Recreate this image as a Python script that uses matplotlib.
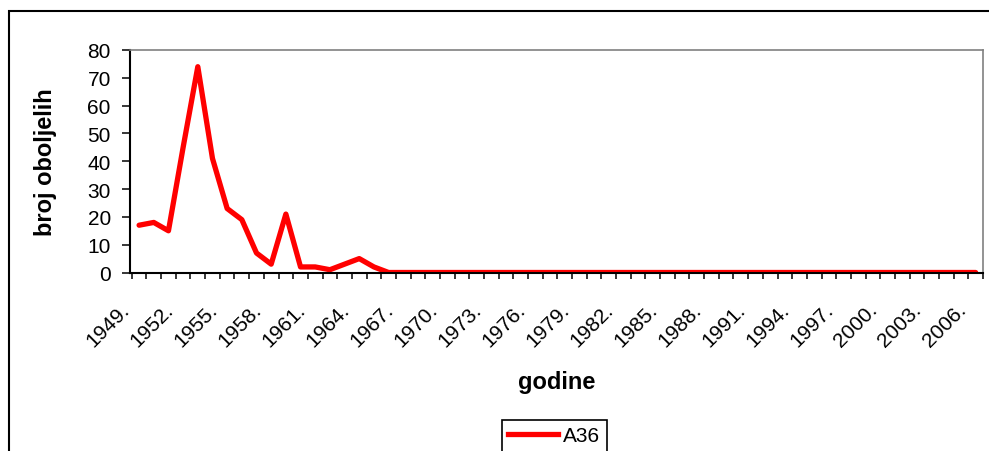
import matplotlib
matplotlib.use("Agg")
import matplotlib.pyplot as plt
from matplotlib.patches import Rectangle
from matplotlib.lines import Line2D

plt.rcParams['font.family'] = ['Liberation Sans', 'DejaVu Sans']

# Yearly case counts
years = list(range(1949, 2007))
cases = [17, 18, 15, 45, 74, 41, 23, 19, 7, 3,
         21, 2, 2, 1, 3, 5, 2, 0] + [0] * 40
series_name = "A36"
x_title = "godine"
y_title = "broj oboljelih"
y_ticks = [0, 10, 20, 30, 40, 50, 60, 70, 80]
label_years = years[::3]

W, H = 989, 452
fig = plt.figure(figsize=(W / 100, H / 100), dpi=100)

# outer chart frame
fig.patches.append(Rectangle((9 / W, -0.2), 1.2, 1.2 - 12 / H,
                             transform=fig.transFigure, fill=False,
                             edgecolor='black', linewidth=1.5, clip_on=False))

ax = fig.add_axes([130 / W, 1 - 273.5 / H, 853 / W, 222.5 / H])

xpos = [i + 0.5 for i in range(len(years))]
line, = ax.plot(xpos, cases, color='#FF0000', linewidth=3.8,
                solid_joinstyle='round', solid_capstyle='round', zorder=2)

ax.set_xlim(0, len(years))
ax.set_ylim(0, 80)

# y axis
ax.set_yticks(y_ticks)
ax.tick_params(axis='y', direction='out', length=5.8, width=1.1,
               labelsize=15, pad=8, colors='black')

# x axis: tick marks between categories, labels every third year
ax.set_xticks(range(len(years) + 1))
ax.set_xticklabels([])
ax.tick_params(axis='x', which='major', direction='out', length=4.5, width=1.1)
lab_pos = [years.index(y) + 0.5 - 0.62 for y in label_years]
ax.set_xticks(lab_pos, minor=True)
ax.set_xticklabels([f"{y}." for y in label_years], minor=True,
                   rotation=45, ha='right', va='baseline',
                   rotation_mode='anchor', fontsize=15)
ax.tick_params(axis='x', which='minor', length=0, pad=27)

for side in ('left', 'bottom'):
    ax.spines[side].set_color('black')
    ax.spines[side].set_linewidth(1.5)
for side in ('top', 'right'):
    ax.spines[side].set_color('#808080')
    ax.spines[side].set_linewidth(1.2)

fig.text(46 / W, 1 - 162 / H, y_title, rotation=90, ha='center', va='center',
         fontsize=17, fontweight='bold')
fig.text(556.5 / W, 1 - 389 / H, x_title, ha='center', va='baseline',
         fontsize=17, fontweight='bold')

leg = fig.legend([Line2D([], [], color='#FF0000', linewidth=3.8)], [series_name],
                 loc='upper left', bbox_to_anchor=(501.7 / W, 1 - 421 / H),
                 borderaxespad=0, fontsize=15, handlelength=2.4,
                 handletextpad=0.25, borderpad=0.3, fancybox=False,
                 framealpha=1, edgecolor='black')
leg.get_frame().set_linewidth(1.2)

fig.savefig("out.png", dpi=100)
